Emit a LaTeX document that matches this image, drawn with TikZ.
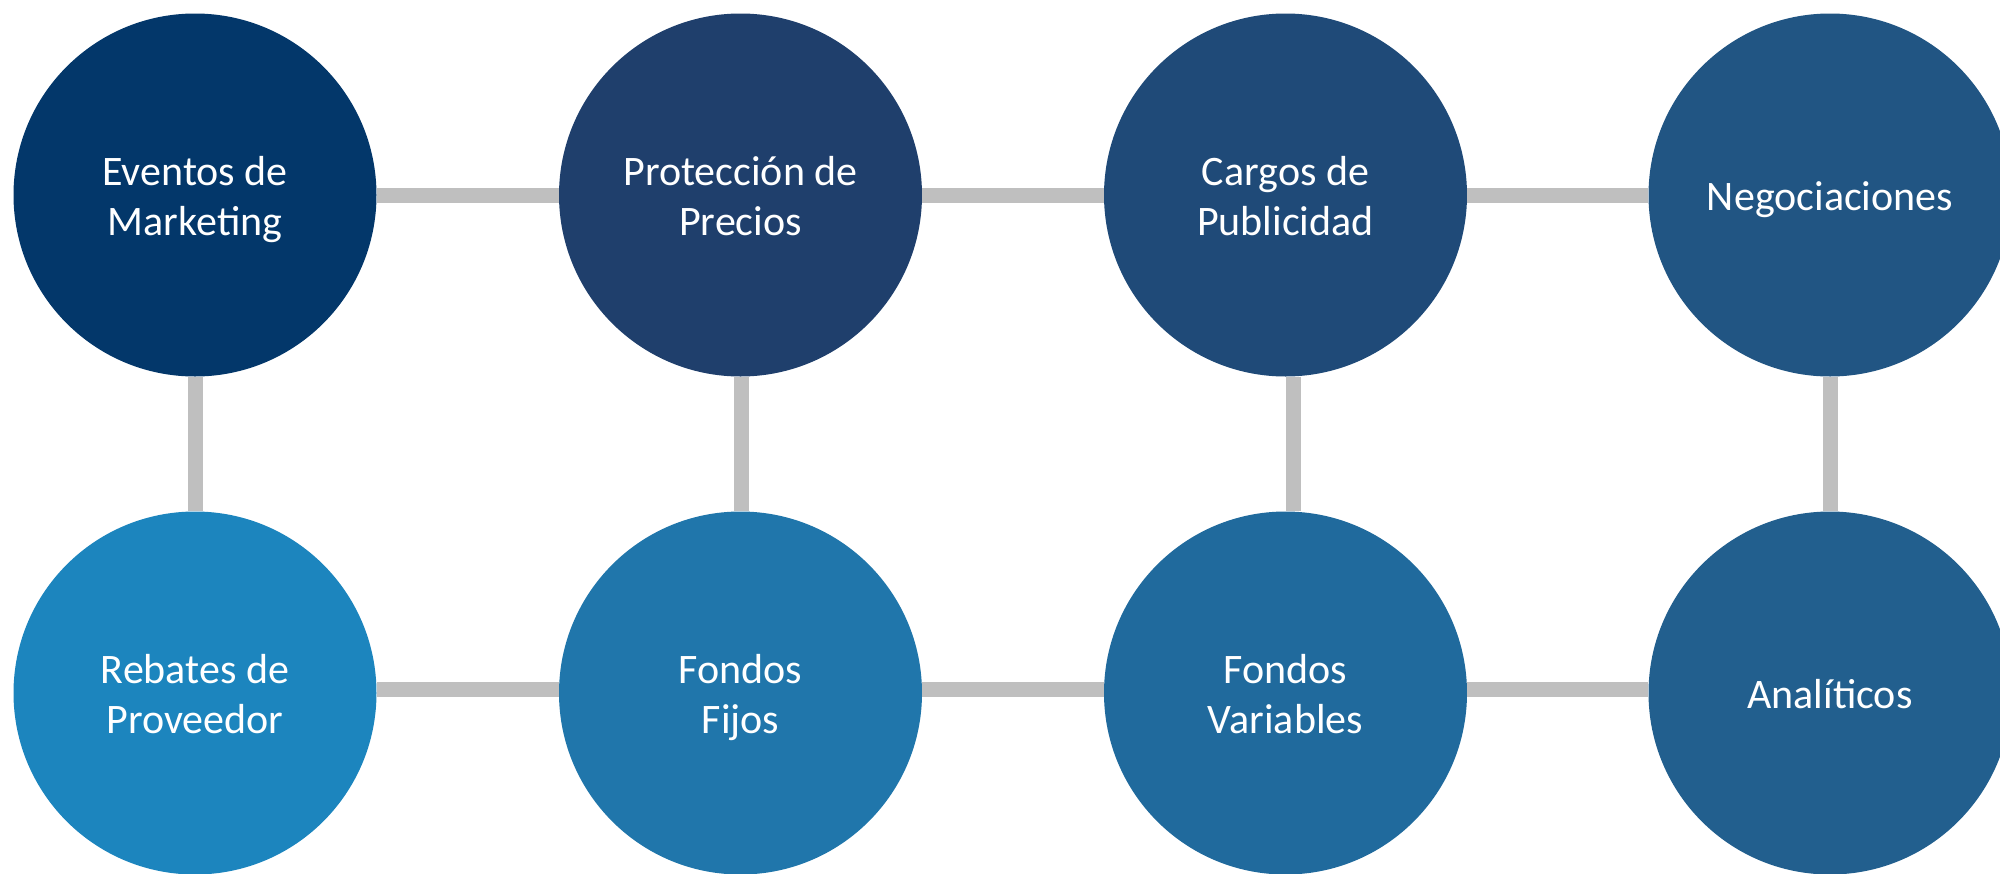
\documentclass[tikz,border=0pt]{standalone}
\usepackage{fontspec}
\setmainfont{Carlito}
\definecolor{cA}{HTML}{03376A}
\definecolor{cB}{HTML}{1F3F6C}
\definecolor{cC}{HTML}{1F4A78}
\definecolor{cD}{HTML}{215583}
\definecolor{cE}{HTML}{1C85BE}
\definecolor{cF}{HTML}{2076AB}
\definecolor{cG}{HTML}{206A9D}
\definecolor{cH}{HTML}{225F8E}
\definecolor{linkgray}{HTML}{BFBFBF}
\newcommand\bubtxt[1]{\raisebox{-5pt}[\height][\depth]{\begin{tabular}{@{}c@{}}#1\end{tabular}}}
\tikzset{
  bubble/.style={circle, minimum size=363pt, inner sep=0pt, text=white,
    font=\fontsize{42}{50}\selectfont},
  link/.style={draw=linkgray, line width=15pt}
}
\begin{document}
\begin{tikzpicture}[x=1pt,y=-1pt]
\useasboundingbox (0,0) rectangle (2000,873);
\clip (0,0) rectangle (2000,873);
\node[bubble, fill=cA] (ev) at (195,195) {\bubtxt{Eventos de\\Marketing}};
\node[bubble, fill=cB] (pp) at (740.5,195) {\bubtxt{Protección de\\Precios}};
\node[bubble, fill=cC] (cp) at (1285.5,195) {\bubtxt{Cargos de\\Publicidad}};
\node[bubble, fill=cD] (ng) at (1830,195) {\bubtxt{Negociaciones}};
\node[bubble, fill=cE] (rp) at (195,693) {\bubtxt{Rebates de\\Proveedor}};
\node[bubble, fill=cF] (ff) at (740.5,693) {\bubtxt{Fondos\\Fijos}};
\node[bubble, fill=cG] (fv) at (1285.5,693) {\bubtxt{Fondos\\Variables}};
\node[bubble, fill=cH] (an) at (1830,693) {\bubtxt{Analíticos}};
% top row
\draw[link] (ev.east) -- (pp.west);
\draw[link] (pp.east) -- (cp.west);
\draw[link] (cp.east) -- (ng.west);
% bottom row
\draw[link] ([yshift=4pt]rp.east) -- ([yshift=4pt]ff.west);
\draw[link] ([yshift=4pt]ff.east) -- ([yshift=4pt]fv.west);
\draw[link] ([yshift=4pt]fv.east) -- ([yshift=4pt]an.west);
% verticals
\draw[link] (ev.south) -- (rp.north);
\draw[link] ([xshift=1pt]pp.south) -- ([xshift=1pt]ff.north);
\draw[link] ([xshift=8pt]cp.south) -- ([xshift=8pt]fv.north);
\draw[link] (ng.south) -- (an.north);
\end{tikzpicture}
\end{document}
